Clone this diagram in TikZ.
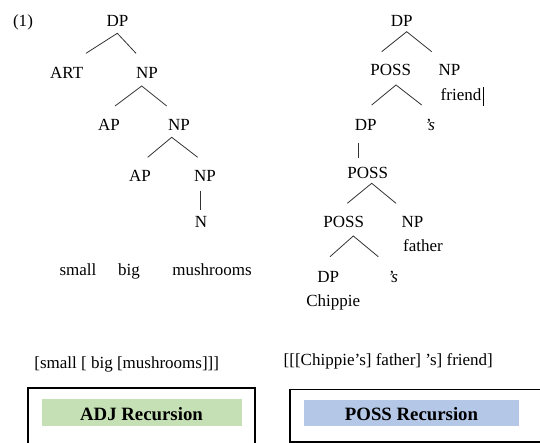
\documentclass[tikz,border=0pt]{standalone}
\usepackage{fontspec}
\setmainfont{Liberation Serif}
\definecolor{adjgreen}{HTML}{C5E0B4}
\definecolor{possblue}{HTML}{B4C7E7}
\begin{document}
\begin{tikzpicture}[x=1pt,y=-1pt,
  lab/.style={inner sep=0pt,anchor=base,font=\fontsize{17}{20}\selectfont},
  branch/.style={line width=0.8pt,black!80},
  frame/.style={line width=1.4pt,black},
  tag/.style={inner sep=0pt,anchor=base,font=\fontsize{18.8}{22}\selectfont\bfseries}]
\useasboundingbox (0,0) rectangle (540,443);
\fill[white] (0,0) rectangle (540,443);

% ---- ADJ tree ----
\node[lab] (num) at (23,27) {(1)};
\node[lab] (aDP) at (117.5,27) {DP};
\node[lab] (aART) at (66.7,79) {ART};
\node[lab] (aNP1) at (147,79) {NP};
\node[lab] (aAP1) at (109,131) {AP};
\node[lab] (aNP2) at (179,131) {NP};
\node[lab] (aAP2) at (140,182) {AP};
\node[lab] (aNP3) at (205,182) {NP};
\node[lab] (aN) at (201,228) {N};
\node[lab] (wSmall) at (78,276) {small};
\node[lab] (wBig) at (129,276) {big};
\node[lab] (wMush) at (212,276) {mushrooms};

\coordinate (a0) at (117.3,33.3);
\coordinate (a0l) at (86,53.3);
\coordinate (a0r) at (136,53.3);
\coordinate (a1) at (141.7,86);
\coordinate (a1l) at (115,106);
\coordinate (a1r) at (166.7,106);
\coordinate (a2) at (171.7,137.3);
\coordinate (a2l) at (147.7,157.3);
\coordinate (a2r) at (197.7,157.3);
\coordinate (a3) at (200,190.7);
\coordinate (a3b) at (200,210);
\draw[branch] (a0l) -- (a0) -- (a0r);
\draw[branch] (a1l) -- (a1) -- (a1r);
\draw[branch] (a2l) -- (a2) -- (a2r);
\draw[branch] (a3) -- (a3b);

% ---- POSS tree ----
\node[lab] (pDP) at (401.7,27) {DP};
\node[lab] (pPOSS1) at (390.8,76) {POSS};
\node[lab] (pNP1) at (449.5,76) {NP};
\node[lab] (pFriend) at (461,101) {friend};
\node[lab] (pDP2) at (365.8,131) {DP};
\node[lab] (pS1) at (430,131) {\itshape ’s};
\node[lab] (pPOSS2) at (367.8,179) {POSS};
\node[lab] (pPOSS3) at (343.8,228) {POSS};
\node[lab] (pNP2) at (412.5,228) {NP};
\node[lab] (pFather) at (423,252) {father};
\node[lab] (pDP3) at (328.3,283) {DP};
\node[lab] (pS2) at (393,283) {\itshape ’s};
\node[lab] (pChip) at (333.3,306) {Chippie};

\coordinate (p0) at (406.7,31.7);
\coordinate (p0l) at (381.7,51.7);
\coordinate (p0r) at (431.7,51.7);
\coordinate (p1) at (396,85);
\coordinate (p1l) at (371.7,105);
\coordinate (p1r) at (421.7,105);
\coordinate (p2) at (358.3,143.3);
\coordinate (p2b) at (358.3,157.7);
\coordinate (p3) at (371.7,183.3);
\coordinate (p3l) at (347.3,203.3);
\coordinate (p3r) at (396,203.3);
\coordinate (p4) at (353.3,236);
\coordinate (p4l) at (330,256.7);
\coordinate (p4r) at (378.3,256.7);
\draw[branch] (p0l) -- (p0) -- (p0r);
\draw[branch] (p1l) -- (p1) -- (p1r);
\draw[branch] (p2) -- (p2b);
\draw[branch] (p3l) -- (p3) -- (p3r);
\draw[branch] (p4l) -- (p4) -- (p4r);

% text cursor after "friend"
\coordinate (cur1) at (483.3,87.3);
\coordinate (cur2) at (483.3,106);
\draw[line width=0.8pt] (cur1) -- (cur2);

% ---- bracketings ----
\node[lab] (brA) at (126.7,368) {[small [ big [mushrooms]]]};
\node[lab] (brP) at (388.3,365) {[[[Chippie’s] father] ’s] friend]};

% ---- caption boxes ----
\draw[frame] (255,460) -- (255,388) -- (28,388) -- (28,460);
\draw[frame] (560,442) -- (290,442) -- (290,389.5) -- (560,389.5);
\fill[adjgreen] (42,399) rectangle (242,426);
\fill[possblue] (304,400) rectangle (519,426);
\node[tag] (tA) at (141.5,420) {ADJ Recursion};
\node[tag] (tP) at (411.5,420.5) {POSS Recursion};
\end{tikzpicture}
\end{document}
